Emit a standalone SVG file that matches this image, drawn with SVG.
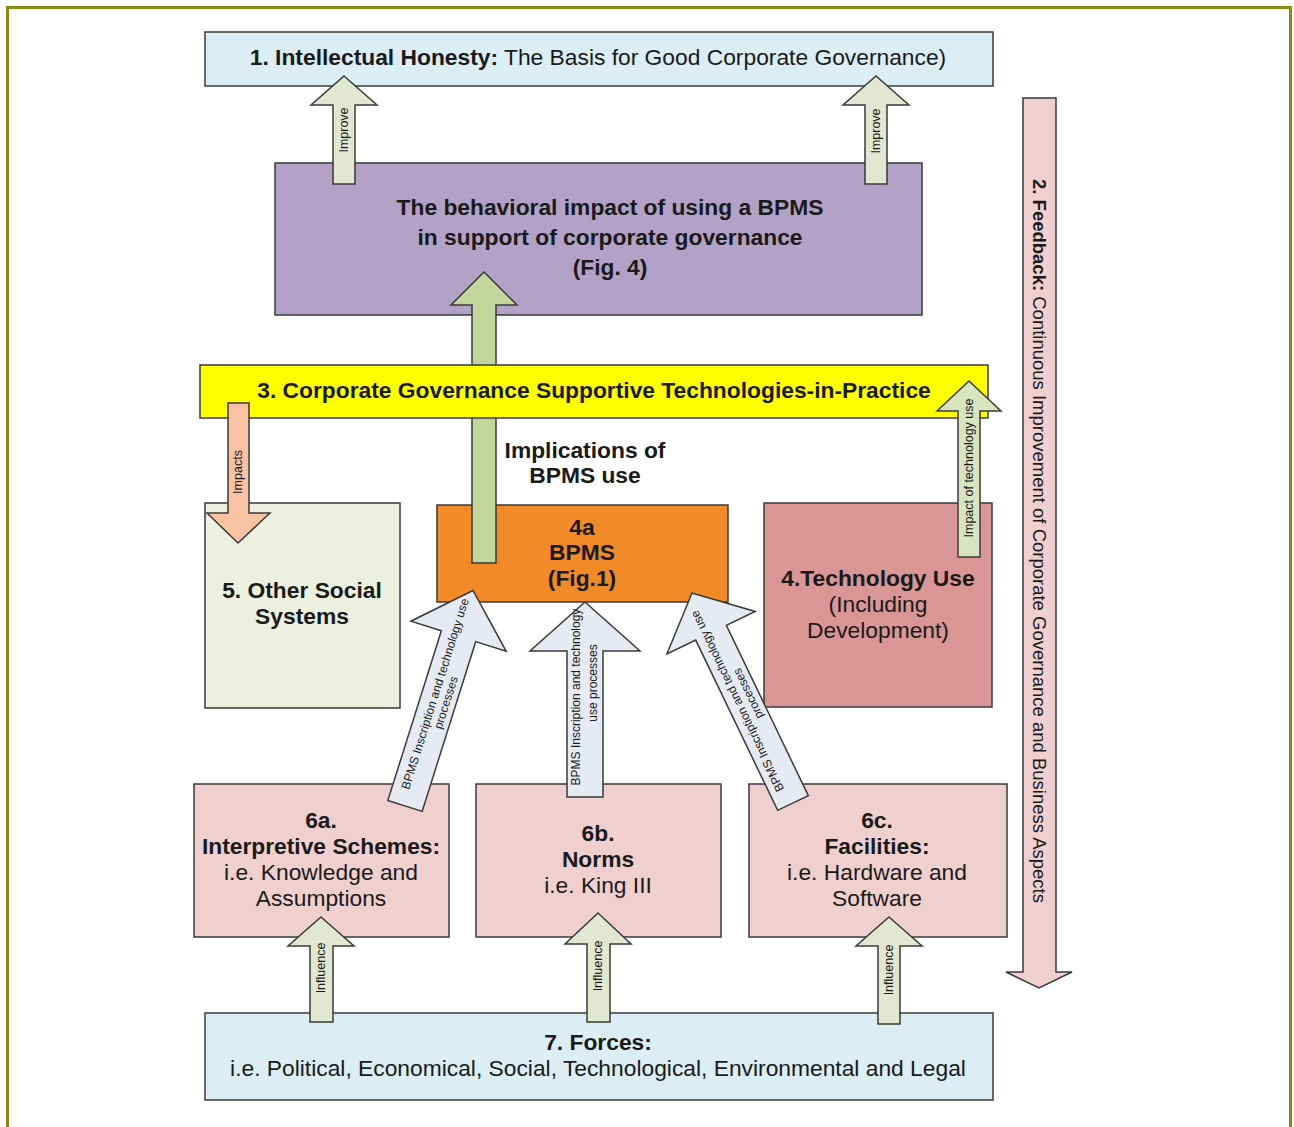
<svg xmlns="http://www.w3.org/2000/svg" width="1294" height="1127" viewBox="0 0 1294 1127">
<style>
text{font-family:"Liberation Sans",Arial,sans-serif;fill:#1a1a1a}
.t{font-size:22.8px;text-anchor:middle}
.b{font-weight:bold}
.box{stroke:#3a3a3a;stroke-width:1.5}
.arr{stroke:#3a3a3a;stroke-width:1.5;stroke-linejoin:miter}
.s{font-size:12.5px;text-anchor:middle}
.d{font-size:12px;text-anchor:middle}
</style>
<rect x="0" y="0" width="1294" height="1127" fill="#ffffff"/>
<rect x="7.5" y="7.5" width="1283" height="1140" fill="none" stroke="#8a8a12" stroke-width="3"/>

<g id="node1">
<rect class="box" x="205" y="32" width="788" height="54" fill="#daeef3"/>
<text class="t" x="598" y="65"><tspan class="b">1. Intellectual Honesty:</tspan> The Basis for Good Corporate Governance)</text>
</g>
<g id="node-behavioral">
<rect class="box" x="275" y="163" width="647" height="152" fill="#b3a2c7"/>
<text class="t b" x="610" y="215">The behavioral impact of using a BPMS</text>
<text class="t b" x="610" y="245">in support of corporate governance</text>
<text class="t b" x="610" y="275">(Fig. 4)</text>
</g>
<g id="node5">
<rect class="box" x="205" y="503" width="195" height="205" fill="#ebf1de"/>
<text class="t b" x="302" y="598">5. Other Social</text>
<text class="t b" x="302" y="624">Systems</text>
</g>
<g id="node4a">
<rect class="box" x="437" y="505" width="291" height="97" fill="#f28a28"/>
<text class="t b" x="582" y="535">4a</text>
<text class="t b" x="582" y="560">BPMS</text>
<text class="t b" x="582" y="586">(Fig.1)</text>
</g>
<g id="node4">
<rect class="box" x="764" y="503" width="228" height="204" fill="#d99694"/>
<text class="t b" x="878" y="586">4.Technology Use</text>
<text class="t" x="878" y="612">(Including</text>
<text class="t" x="878" y="638">Development)</text>
</g>
<g id="node6a">
<rect class="box" x="194" y="784" width="255" height="153" fill="#efd0cf"/>
<text class="t b" x="321" y="828">6a.</text>
<text class="t b" x="321" y="854">Interpretive Schemes:</text>
<text class="t" x="321" y="880">i.e. Knowledge and</text>
<text class="t" x="321" y="906">Assumptions</text>
</g>
<g id="node6b">
<rect class="box" x="476" y="784" width="245" height="153" fill="#efd0cf"/>
<text class="t b" x="598" y="841">6b.</text>
<text class="t b" x="598" y="867">Norms</text>
<text class="t" x="598" y="893">i.e. King III</text>
</g>
<g id="node6c">
<rect class="box" x="749" y="784" width="258" height="153" fill="#efd0cf"/>
<text class="t b" x="877" y="828">6c.</text>
<text class="t b" x="877" y="854">Facilities:</text>
<text class="t" x="877" y="880">i.e. Hardware and</text>
<text class="t" x="877" y="906">Software</text>
</g>
<g id="node7">
<rect class="box" x="205" y="1013" width="788" height="87" fill="#daeef3"/>
<text class="t b" x="598" y="1050">7. Forces:</text>
<text class="t" x="598" y="1076">i.e. Political, Economical, Social, Technological, Environmental and Legal</text>
</g>

<g id="connectors-back">
<g id="implications-arrow">
<path class="arr" fill="#c3d69b" d="M484,272 L517,305 L496,305 L496,563 L472,563 L472,305 L451,305 Z"/>
</g>
</g>

<g id="node3">
<rect class="box" x="200" y="365" width="788" height="53" fill="#ffff00"/>
<text class="t b" x="594" y="398">3. Corporate Governance Supportive Technologies-in-Practice</text>
</g>

<text class="t b" x="585" y="458">Implications of</text>
<text class="t b" x="585" y="483">BPMS use</text>

<g id="connectors">
<g id="improve-left">
<path class="arr" fill="#e2e7cf" d="M344,76 L377,105 L355,105 L355,184 L333,184 L333,105 L311,105 Z"/>
<text class="s" transform="translate(348,130) rotate(-90)">Improve</text>
</g>
<g id="improve-right">
<path class="arr" fill="#e2e7cf" d="M876,76 L909,105 L887,105 L887,184 L865,184 L865,105 L843,105 Z"/>
<text class="s" transform="translate(880,131) rotate(-90)">Improve</text>
</g>
<g id="impacts">
<path class="arr" fill="#f9c3a3" d="M228,403 L249,403 L249,513 L270,513 L238,543 L207,513 L228,513 Z"/>
<text class="s" transform="translate(242,472) rotate(-90)">Impacts</text>
</g>
<g id="impact-tech">
<path class="arr" fill="#d7e4bd" d="M969,381 L1001,411 L980,411 L980,557 L958,557 L958,411 L937,411 Z"/>
<text class="s" transform="translate(973,468) rotate(-90)">Impact of technology use</text>
</g>
<g id="feedback">
<path class="arr" fill="#efcfcf" d="M1023,98 L1056,98 L1056,972 L1072,972 L1039,988 L1006,972 L1023,972 Z"/>
<text style="font-size:18.5px;text-anchor:middle" transform="translate(1033,541) rotate(90)"><tspan class="b">2. Feedback:</tspan> Continuous Improvement of Corporate Governance and Business Aspects</text>
</g>
<g id="diag-left" transform="translate(405,806) rotate(17.5)">
<path class="arr" fill="#e6ebf3" d="M0,-226 L50,-178 L18,-178 L18,0 L-18,0 L-18,-178 L-50,-178 Z"/>
<text class="d" transform="rotate(-90)" x="116" y="-1">BPMS Inscription and technology use</text>
<text class="d" transform="rotate(-90)" x="111" y="12">processes</text>
</g>
<g id="diag-mid" transform="translate(585,797)">
<path class="arr" fill="#e6ebf3" d="M0,-195 L55,-146 L18,-146 L18,0 L-18,0 L-18,-146 L-55,-146 Z"/>
<text class="d" transform="rotate(-90)" x="100" y="-5">BPMS Inscription and technology</text>
<text class="d" transform="rotate(-90)" x="114" y="12">use processes</text>
</g>
<g id="diag-right" transform="translate(793,803) rotate(-25.7)">
<path class="arr" fill="#e6ebf3" d="M0,-233 L49,-189 L17,-189 L17,0 L-17,0 L-17,-189 L-49,-189 Z"/>
<text class="d" transform="rotate(-90)" x="116" y="-2">BPMS Inscription and technology use</text>
<text class="d" transform="rotate(-90)" x="118" y="11">processes</text>
</g>
<g id="influence-left">
<path class="arr" fill="#e2e7cf" d="M321,917 L354,946 L333,946 L333,1022 L310,1022 L310,946 L288,946 Z"/>
<text class="s" transform="translate(325,968) rotate(-90)">Influence</text>
</g>
<g id="influence-mid">
<path class="arr" fill="#e2e7cf" d="M598,913 L631,944 L610,944 L610,1022 L587,1022 L587,944 L565,944 Z"/>
<text class="s" transform="translate(602,966) rotate(-90)">Influence</text>
</g>
<g id="influence-right">
<path class="arr" fill="#e2e7cf" d="M889,917 L922,946 L900,946 L900,1024 L878,1024 L878,946 L856,946 Z"/>
<text class="s" transform="translate(893,970) rotate(-90)">Influence</text>
</g>
</g>
</svg>
